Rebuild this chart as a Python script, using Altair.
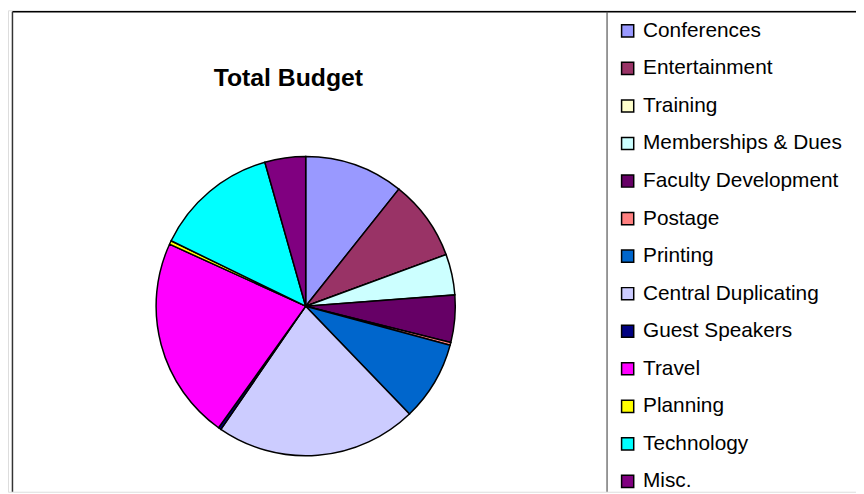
import altair as alt
import pandas as pd

TITLE = "Total Budget"
categories = ["Conferences", "Entertainment", "Training", "Memberships & Dues",
              "Faculty Development", "Postage", "Printing", "Central Duplicating",
              "Guest Speakers", "Travel", "Planning", "Technology", "Misc."]
shares = [10.7, 8.7, 0.0, 4.4, 5.1, 0.3, 8.6, 21.8, 0.3, 21.9, 0.4, 13.4, 4.4]
colors = ["#9999FF", "#993366", "#FFFFCC", "#CCFFFF", "#660066", "#FF8080",
          "#0066CC", "#CCCCFF", "#000080", "#FF00FF", "#FFFF00", "#00FFFF", "#800080"]

df = pd.DataFrame({"category": categories, "share": shares,
                   "idx": list(range(len(categories)))})
one = pd.DataFrame({"k": [0]})

W, H = 856, 486

pie = alt.Chart(df).mark_arc(radius=151, stroke="black", strokeWidth=1.5).encode(
    theta=alt.Theta("share:Q", stack=True),
    order=alt.Order("idx:Q"),
    x=alt.value(300.5),
    y=alt.value(298.7),
    color=alt.Color(
        "category:N",
        sort=categories,
        scale=alt.Scale(domain=categories, range=colors),
        legend=alt.Legend(
            title=None,
            orient="none",
            legendX=615,
            legendY=10.3,
            symbolType="square",
            symbolSize=150,
            symbolStrokeColor="black",
            symbolStrokeWidth=1.5,
            labelFont="Liberation Sans",
            labelFontSize=21,
            labelColor="black",
            labelLimit=400,
            labelOffset=5,
            rowPadding=15.9,
        ),
    ),
)

title = alt.Chart(one).mark_text(
    text=TITLE, font="Liberation Sans", fontSize=25, fontWeight="bold",
    align="center", baseline="alphabetic", color="black"
).encode(x=alt.value(283), y=alt.value(76.5))

top_rule = alt.Chart(one).mark_rule(color="black", strokeWidth=1.3).encode(
    x=alt.value(4.5), x2=alt.value(W), y=alt.value(1.5))
left_rule = alt.Chart(one).mark_rule(color="#333333", strokeWidth=1.5).encode(
    x=alt.value(4.5), y=alt.value(1.5), y2=alt.value(H))
legend_rule = alt.Chart(one).mark_rule(color="#555555", strokeWidth=1.2).encode(
    x=alt.value(604.7), y=alt.value(1.5), y2=alt.value(H))

chart = alt.layer(pie, title, top_rule, left_rule, legend_rule).properties(
    width=W, height=H,
    autosize=alt.AutoSizeParams(type="none"),
    padding=0,
).configure_view(stroke=None).configure(background="white")

chart.save("out.html", embed_options={"renderer": "svg", "actions": False})
